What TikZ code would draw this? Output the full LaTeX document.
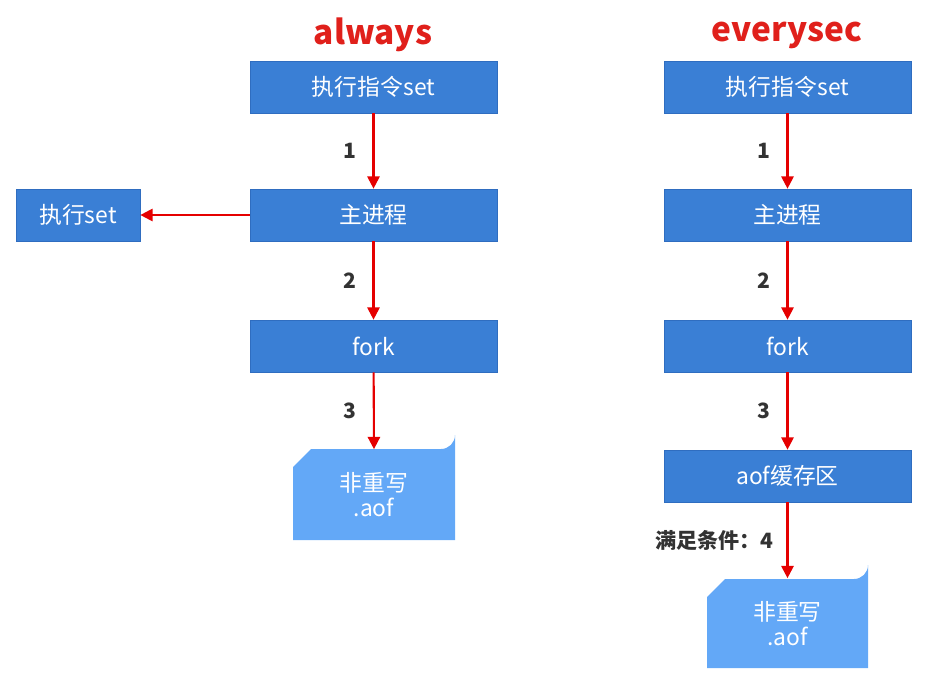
\documentclass[tikz,border=0pt]{standalone}
\usepackage{fontspec}
\setmainfont{Noto Sans CJK SC}
\usepackage{tikz}
\usetikzlibrary{positioning, arrows.meta}

\definecolor{boxblue}{HTML}{3A7FD5}
\definecolor{boxedge}{HTML}{2F6DC0}
\definecolor{fileblue}{HTML}{63A8F7}
\definecolor{titlered}{HTML}{E0201B}

\begin{document}
\begin{tikzpicture}[x=0.02cm, y=-0.02cm,
    stepbox/.style={rectangle, draw=boxedge, fill=boxblue, minimum width=4.94cm, minimum height=1.04cm, text=white, font=\fontsize{13}{15}\selectfont},
    smallbox/.style={stepbox, minimum width=2.48cm},
    title/.style={text=titlered, font=\fontsize{19}{22}\selectfont\bfseries},
    steplabel/.style={font=\fontsize{12}{14}\selectfont\bfseries, text=black!80},
    filetext/.style={text=white, align=center, font=\fontsize{13}{16}\selectfont, minimum width=3.2cm, minimum height=1.8cm},
    arrow/.style={-{Triangle[length=7pt, width=7pt]}, very thick, draw=red!90!black}
]
\useasboundingbox (0,0) rectangle (944,673);

% always
\node[title] (t1) at (373,35) {always};
\node[stepbox] (set1) at (373.5,87) {执行指令set};
\node[stepbox] (main1) at (373.5,215) {主进程};
\node[stepbox] (fork1) at (373.5,346) {fork};
\node[smallbox] (exec1) at (78,215) {执行set};
\fill[fileblue] (293,540) -- (293,467) -- (311,449) -- (441,449) arc (90:0:14) -- (455,540) -- cycle;
\node[filetext] (file1) at (374,494.5) {非重写\\[-2pt].aof};

\draw[arrow] (set1) -- node[steplabel, left=6pt] {1} (main1);
\draw[arrow] (main1) -- node[steplabel, left=6pt] {2} (fork1);
\draw[arrow] (fork1) -- node[steplabel, left=6pt] {3} (file1.north);
\draw[arrow] (main1) -- (exec1);

% everysec
\node[title] (t2) at (787,35) {everysec};
\node[stepbox] (set2) at (787.5,87) {执行指令set};
\node[stepbox] (main2) at (787.5,215) {主进程};
\node[stepbox] (fork2) at (787.5,346) {fork};
\node[stepbox] (buf2) at (787.5,476) {aof缓存区};
\fill[fileblue] (707,668) -- (707,597) -- (725,579) -- (854,579) arc (90:0:14) -- (868,668) -- cycle;
\node[filetext] (file2) at (787.5,623.5) {非重写\\[-2pt].aof};

\draw[arrow] (set2) -- node[steplabel, left=6pt] {1} (main2);
\draw[arrow] (main2) -- node[steplabel, left=6pt] {2} (fork2);
\draw[arrow] (fork2) -- node[steplabel, left=6pt] {3} (buf2);
\draw[arrow] (buf2) -- node[steplabel, left=4pt] {满足条件：4} (file2.north);

\end{tikzpicture}
\end{document}
